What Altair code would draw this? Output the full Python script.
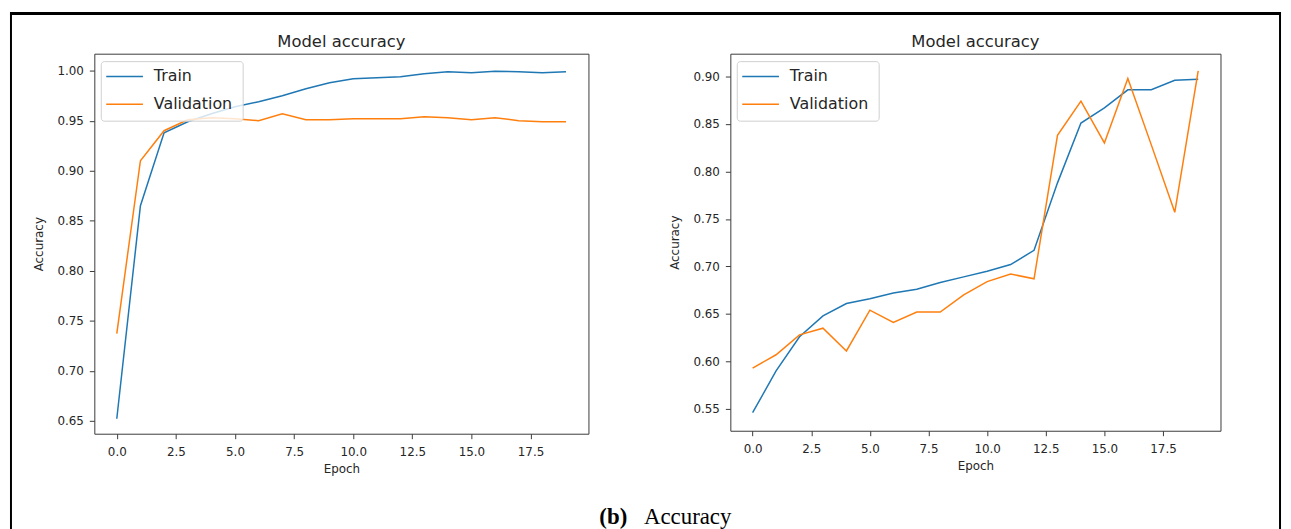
import altair as alt
import pandas as pd

# ---------------- data ----------------
epochs = list(range(20))
series = ["Train", "Validation"]
colors = ["#1f77b4", "#ff7f0e"]

left_train = [0.652, 0.865, 0.938, 0.949, 0.957, 0.964, 0.969, 0.975, 0.982, 0.988,
              0.992, 0.993, 0.994, 0.997, 0.999, 0.998, 0.9995, 0.999, 0.998, 0.999]
left_val = [0.737, 0.910, 0.940, 0.951, 0.953, 0.952, 0.950, 0.957, 0.951, 0.951,
            0.952, 0.952, 0.952, 0.954, 0.953, 0.951, 0.953, 0.950, 0.949, 0.949]

right_train = [0.546, 0.590, 0.626, 0.648, 0.661, 0.666, 0.672, 0.676, 0.683, 0.689,
               0.695, 0.702, 0.717, 0.788, 0.851, 0.867, 0.886, 0.886, 0.896, 0.897]
right_val = [0.593, 0.607, 0.628, 0.635, 0.611, 0.654, 0.641, 0.652, 0.652, 0.670,
             0.684, 0.692, 0.687, 0.838, 0.874, 0.830, 0.898, 0.828, 0.757, 0.906]

x_ticks = [0.0, 2.5, 5.0, 7.5, 10.0, 12.5, 15.0, 17.5]
left_y_ticks = [0.65, 0.70, 0.75, 0.80, 0.85, 0.90, 0.95, 1.00]
right_y_ticks = [0.55, 0.60, 0.65, 0.70, 0.75, 0.80, 0.85, 0.90]

left_domain = [0.637, 1.017]
right_domain = [0.527, 0.924]
x_domain = [-0.95, 19.95]

panel_title = "Model accuracy"
caption_label = "(b)"
caption_text = "Accuracy"

FONT = "DejaVu Sans"
TXT = "#262626"


def panel(train, val, ydom, yticks, w, h, extras=None):
    df = pd.DataFrame({
        "Epoch": epochs * 2,
        "Accuracy": train + val,
        "Series": [series[0]] * len(train) + [series[1]] * len(val),
    })
    lines = alt.Chart(df).mark_line(strokeWidth=1.5).encode(
        x=alt.X("Epoch:Q",
                scale=alt.Scale(domain=x_domain, nice=False, zero=False),
                axis=alt.Axis(values=x_ticks, format=".1f", title="Epoch")),
        y=alt.Y("Accuracy:Q",
                scale=alt.Scale(domain=ydom, nice=False, zero=False),
                axis=alt.Axis(values=yticks, format=".2f", title="Accuracy")),
        color=alt.Color("Series:N",
                        scale=alt.Scale(domain=series, range=colors),
                        legend=None),
    )
    title = alt.Chart().mark_text(align="center", baseline="alphabetic", font=FONT,
                                  fontSize=16.5, color=TXT).encode(
        x=alt.value(w / 2), y=alt.value(-7), text=alt.value(panel_title))
    # legend box (matplotlib-like, upper left)
    box = alt.Chart().mark_rect(fill="white", fillOpacity=0.8, stroke="#d0d0d0",
                                strokeWidth=1, cornerRadius=3).encode(
        x=alt.value(7), x2=alt.value(150), y=alt.value(8), y2=alt.value(68))
    layers = [lines, title, box]
    for i, (name, col) in enumerate(zip(series, colors)):
        yy = 23 + 28 * i
        layers.append(alt.Chart().mark_rule(color=col, strokeWidth=1.5).encode(
            x=alt.value(12), x2=alt.value(49), y=alt.value(yy)))
        layers.append(alt.Chart().mark_text(align="left", baseline="middle",
                                            font=FONT, fontSize=16, color=TXT).encode(
            x=alt.value(60), y=alt.value(yy), text=alt.value(name)))
    if extras:
        layers += extras
    return alt.layer(*layers).properties(width=w, height=h)


# frame and caption (drawn relative to the left panel)
frame = [
    alt.Chart().mark_rule(color="black", strokeWidth=3).encode(
        x=alt.value(-85), x2=alt.value(1196), y=alt.value(-40.5)),
    alt.Chart().mark_rule(color="black", strokeWidth=2).encode(
        x=alt.value(-84), y=alt.value(-42), y2=alt.value(479)),
    alt.Chart().mark_rule(color="black", strokeWidth=2).encode(
        x=alt.value(1195), y=alt.value(-42), y2=alt.value(479)),
    alt.Chart().mark_text(align="left", baseline="alphabetic", font="Liberation Serif",
                          fontSize=23, fontWeight="bold", color="black").encode(
        x=alt.value(509), y=alt.value(474), text=alt.value(caption_label)),
    alt.Chart().mark_text(align="left", baseline="alphabetic", font="Liberation Serif",
                          fontSize=23, color="black").encode(
        x=alt.value(554), y=alt.value(474), text=alt.value(caption_text)),
]

left = panel(left_train, left_val, left_domain, left_y_ticks, 498, 383, frame)
right = panel(right_train, right_val, right_domain, right_y_ticks, 494, 380)

chart = alt.hconcat(left, right, spacing=143, bounds="flush").properties(
    padding=0, background="white"
).configure_view(
    stroke="#3a3a3a", strokeWidth=1
).configure_axis(
    labelFont=FONT, labelFontSize=12, labelColor=TXT,
    titleFont=FONT, titleFontSize=12, titleFontWeight="normal", titleColor=TXT,
    tickSize=5, tickColor="#3a3a3a", tickWidth=1,
    domain=False, grid=False,
).configure_axisY(
    labelPadding=6, titlePadding=12
).configure_axisX(
    labelPadding=8, titlePadding=6
)

chart.save("out.html", embed_options={"renderer": "svg", "actions": False})
